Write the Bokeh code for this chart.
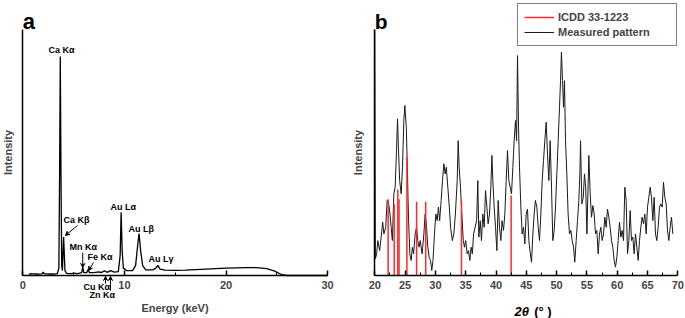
from math import pi
from bokeh.plotting import figure
from bokeh.layouts import row
from bokeh.models import Range1d, Label, Legend, LegendItem, Arrow, VeeHead, FixedTicker
from bokeh.embed import file_html
from bokeh.resources import INLINE

FONT = "Liberation Sans"

# ---------------- panel a: EDS spectrum ----------------
eds_energy = [0.6, 0.8, 1.0, 1.5, 1.9, 2.0, 2.1, 2.5, 3.0, 3.4, 3.55, 3.62, 3.69, 3.76, 3.83,
              3.9, 3.96, 4.02, 4.08, 4.15, 4.3, 4.8, 5.0, 5.4, 5.8, 5.9, 6.0, 6.3, 6.42, 6.55,
              7.0, 7.5, 7.7, 8.05, 8.3, 8.64, 9.0, 9.4, 9.58, 9.68, 9.78, 9.9, 10.2, 10.8,
              11.1, 11.3, 11.44, 11.6, 11.8, 12.1, 12.8, 13.1, 13.3, 13.5, 14.0, 15.0, 16.0,
              17.0, 18.0, 19.0, 20.0, 21.0, 22.0, 23.0, 24.0, 24.8, 25.5, 26.0, 30.0]
eds_counts = [0.5, 0.8, 0.7, 0.6, 0.7, 1.4, 0.8, 0.6, 0.6, 0.8, 3.0, 40, 89, 40, 4.0,
              2.0, 10, 15.6, 9, 2.0, 0.9, 0.8, 1.0, 0.8, 1.2, 3.4, 1.2, 1.2, 2.4, 1.2,
              1.2, 1.5, 1.2, 1.9, 1.3, 2.0, 1.4, 1.6, 8, 25.7, 10, 3.0, 2.0, 2.0,
              4.0, 12, 17, 10, 4.0, 2.3, 2.3, 3.0, 4.1, 2.6, 2.2, 2.1, 2.2,
              2.4, 2.6, 2.8, 3.0, 3.1, 3.2, 3.2, 2.8, 1.8, 0.3, 0.0, 0.0]

eds_labels = ["Ca K\u03b1", "Ca K\u03b2", "Mn K\u03b1", "Fe K\u03b1", "Cu K\u03b1",
              "Zn K\u03b1", "Au L\u03b1", "Au L\u03b2", "Au L\u03b3"]
eds_label_x = [2.53, 4.0, 4.6, 6.37, 5.97, 6.56, 8.63, 10.4, 12.37]
eds_label_y = [91.5, 22.4, 11.4, 7.7, -4.5, -8.1, 28.0, 19.1, 6.9]

eds_arrow_x0 = [5.38, 5.9, 6.96, 8.14, 8.63]
eds_arrow_y0 = [20.3, 9.3, 5.3, -3.3, -6.1]
eds_arrow_x1 = [4.2, 5.9, 6.47, 8.14, 8.63]
eds_arrow_y1 = [16.3, 3.3, 2.0, -0.4, -0.4]

# ---------------- panel b: XRD pattern ----------------
xrd_angle = [20.0, 20.1, 20.3, 20.5, 20.8, 21.05, 21.3, 21.5, 21.8, 22.04, 22.3, 22.5, 22.7, 22.9,
             23.14, 23.36, 23.58, 23.75, 23.9, 24.1, 24.35, 24.57, 24.79, 24.96, 25.2, 25.34,
             25.56, 25.78, 26.0, 26.2, 26.4, 26.66, 26.88, 27.1, 27.3, 27.5, 27.8, 28.1, 28.3,
             28.5, 28.75, 28.97, 29.2, 29.4, 29.6, 29.85, 30.07, 30.3, 30.5, 30.7, 30.95,
             31.17, 31.4, 31.6, 31.8, 32.05, 32.3, 32.5, 32.8, 33.04, 33.3, 33.6, 33.76,
             33.92, 34.14, 34.36, 34.6, 34.8, 35.0, 35.24, 35.46, 35.68, 35.9, 36.1, 36.3,
             36.56, 36.8, 37.0, 37.17, 37.4, 37.6, 37.83, 38.05, 38.27, 38.5, 38.7, 38.93,
             39.15, 39.32, 39.48, 39.7, 39.92, 40.14, 40.36, 40.58, 40.8, 41.0, 41.24, 41.46,
             41.68, 41.9, 42.12, 42.34, 42.56, 42.78, 43.0, 43.22, 43.4, 43.55, 43.72, 43.88,
             44.1, 44.32, 44.54, 44.76, 44.98, 45.2, 45.42, 45.6, 45.86, 46.08, 46.3, 46.5,
             46.74, 46.96, 47.18, 47.4, 47.62, 47.84, 48.06, 48.28, 48.5, 48.72, 48.94, 49.16,
             49.38, 49.6, 49.82, 50.04, 50.26, 50.48, 50.65, 50.8, 50.98, 51.14, 51.3, 51.47,
             51.69, 51.9, 52.13, 52.35, 52.57, 52.8, 53.0, 53.23, 53.45, 53.67, 53.85, 53.95,
             54.17, 54.4, 54.6, 54.8, 55.0, 55.32, 55.54, 55.76, 55.98, 56.2, 56.42, 56.64,
             56.86, 57.08, 57.3, 57.52, 57.74, 57.96, 58.18, 58.4, 58.62, 58.84, 59.06, 59.28,
             59.5, 59.72, 59.94, 60.16, 60.38, 60.6, 60.82, 61.04, 61.26, 61.48, 61.7, 61.92,
             62.14, 62.36, 62.58, 62.8, 63.02, 63.24, 63.46, 63.68, 63.9, 64.1, 64.34, 64.56,
             64.78, 65.0, 65.22, 65.44, 65.66, 65.88, 66.1, 66.32, 66.54, 66.76, 66.98, 67.2,
             67.42, 67.64, 67.86, 68.08, 68.3, 68.52, 68.74, 68.96, 69.18]
xrd_intensity = [100.0, 6.8, 8.8, 14.2, 10.1, 15.6, 21.7, 16.9, 19.6, 30.5, 29.1, 25.0, 19.6, 14.2,
                 33.2, 35.9, 50.8, 63.7, 52.1, 38.6, 33.2, 44.0, 63.0, 69.1, 60.3, 46.7,
                 23.7, 8.8, 6.1, 11.5, 8.8, 16.9, 19.6, 14.2, 11.5, 14.2, 8.8, 16.9, 25.0,
                 21.0, 11.5, 7.4, 6.1, 2.0, 6.1, 16.9, 25.0, 22.3, 27.8, 22.3, 30.5,
                 38.6, 45.4, 41.3, 44.0, 35.9, 27.8, 19.6, 14.2, 16.9, 25.0, 38.6, 54.8,
                 44.0, 35.9, 25.0, 14.2, 11.5, 14.2, 8.8, 10.1, 6.1, 11.5, 8.8, 16.9,
                 19.6, 22.3, 38.6, 15.6, 22.3, 14.2, 25.0, 19.6, 34.5, 27.8, 21.0, 25.0,
                 35.9, 48.8, 38.6, 27.8, 19.6, 10.1, 30.5, 19.6, 14.2, 22.3, 18.3, 25.0,
                 38.6, 50.8, 38.6, 35.9, 33.2, 44.0, 54.8, 63.0, 54.8, 89.4, 60.3, 44.0,
                 27.8, 16.9, 19.6, 12.8, 25.0, 27.0, 14.2, 10.1, 5.4, 16.9, 25.0, 30.5,
                 27.8, 19.6, 14.2, 25.0, 38.6, 46.7, 54.8, 62.3, 49.4, 38.6, 54.8, 35.9,
                 14.2, 18.3, 27.8, 41.3, 54.8, 68.4, 79.2, 90.8, 79.2, 68.4, 79.2, 54.8,
                 41.3, 25.0, 16.9, 18.3, 14.2, 11.5, 5.4, 14.2, 22.3, 30.5, 42.0, 54.8,
                 29.1, 31.8, 41.3, 35.9, 16.9, 48.8, 33.2, 23.7, 28.4, 25.0, 16.9, 18.3,
                 8.8, 16.9, 19.6, 14.2, 16.9, 23.7, 19.6, 27.0, 23.7, 19.6, 14.2, 11.5,
                 6.1, 3.4, 7.4, 14.2, 21.7, 15.6, 18.3, 14.2, 35.9, 30.5, 8.8, 14.2,
                 26.4, 14.2, 15.6, 8.8, 16.9, 11.5, 6.1, 14.2, 19.6, 23.7, 21.0, 25.0,
                 16.9, 27.8, 31.8, 35.9, 31.8, 22.3, 31.8, 16.9, 14.2, 19.6, 27.8, 29.1,
                 27.8, 37.9, 31.8, 29.1, 18.3, 14.2, 19.6, 23.7, 16.9]

icdd_angle = [22.2, 23.2, 23.8, 24.0, 25.3, 26.9, 28.4, 34.3, 42.5]
icdd_intensity = [31, 29, 35, 31, 48, 30, 30, 30.5, 32.5]

x_ticks_a = [0, 10, 20, 30]
x_minor_a = [5, 15, 25]
x_ticks_b = [20, 25, 30, 35, 40, 45, 50, 55, 60, 65, 70]
x_minor_b = [22.5, 27.5, 32.5, 37.5, 42.5, 47.5, 52.5, 57.5, 62.5, 67.5]

# each plot area fills its whole canvas; axes sit at fixed data locations.
PXY = 2.46            # px per intensity unit: 0 at py 275, 100 at py 29
Y_BOTTOM = -43 / PXY
Y_TOP = 275 / PXY
XA0, PXA = 22.3, 10.16   # panel a: 0 keV at px 22.3
XB0, PXB = 34.3, 6.06    # panel b: 20 deg at px 34.3 within the panel


def style(p, ticks, minor, xbounds, xlabel, ylabel_standoff):
    p.xgrid.visible = False
    p.ygrid.visible = False
    p.outline_line_color = None
    p.background_fill_color = "white"
    p.border_fill_color = "white"
    xa = p.xaxis[0]
    xa.fixed_location = 0
    xa.bounds = xbounds
    xa.ticker = FixedTicker(ticks=ticks, minor_ticks=minor)
    xa.major_tick_in = 5
    xa.major_tick_out = 0
    xa.minor_tick_in = 3
    xa.minor_tick_out = 0
    xa.axis_line_width = 1.5
    xa.major_tick_line_width = 1.5
    xa.major_label_text_font = FONT
    xa.major_label_text_font_style = "bold"
    xa.major_label_text_font_size = "11px"
    xa.major_label_standoff = 5
    xa.axis_label = xlabel
    xa.axis_label_text_font = FONT
    xa.axis_label_text_font_style = "bold"
    xa.axis_label_text_font_size = "11px"
    xa.axis_label_standoff = 10
    ya = p.yaxis[0]
    ya.fixed_location = xbounds[0]
    ya.ticker = FixedTicker(ticks=[])
    ya.bounds = (0, 100)
    ya.axis_line_width = 1.5
    ya.major_label_text_font_size = "0px"
    ya.major_label_standoff = 0
    ya.major_tick_in = 0
    ya.major_tick_out = 0
    ya.minor_tick_in = 0
    ya.minor_tick_out = 0
    ya.axis_label = "Intensity"
    ya.axis_label_text_font = FONT
    ya.axis_label_text_font_style = "bold"
    ya.axis_label_text_font_size = "11px"
    ya.axis_label_standoff = ylabel_standoff


def txt(p, x, y, s, size, style_="bold", align="left", baseline="middle"):
    p.add_layout(Label(x=x, y=y, text=s, text_font=FONT, text_font_size=size,
                       text_font_style=style_, text_align=align, text_baseline=baseline,
                       text_color="black"))


# ---- panel a ----
pa = figure(width=340, height=318, output_backend="svg", toolbar_location=None,
            x_range=Range1d(-XA0 / PXA, (340 - XA0) / PXA), y_range=Range1d(Y_BOTTOM, Y_TOP),
            min_border=0)
style(pa, x_ticks_a, x_minor_a, (0, 30), "Energy (keV)", 9)
pa.line(eds_energy, eds_counts, line_color="black", line_width=1.3)
for s, x, y in zip(eds_labels, eds_label_x, eds_label_y):
    txt(pa, x, y, s, "9px")
for x0, y0, x1, y1 in zip(eds_arrow_x0, eds_arrow_y0, eds_arrow_x1, eds_arrow_y1):
    pa.add_layout(Arrow(x_start=x0, y_start=y0, x_end=x1, y_end=y1, line_width=1,
                        end=VeeHead(size=4, line_width=1, fill_color="black")))
txt(pa, 0.0, 103.3, "a", "22px", baseline="alphabetic")

# ---- panel b ----
pb = figure(width=345, height=318, output_backend="svg", toolbar_location=None,
            x_range=Range1d(20 - XB0 / PXB, 20 + (345 - XB0) / PXB),
            y_range=Range1d(Y_BOTTOM, Y_TOP), min_border=0)
style(pb, x_ticks_b, x_minor_b, (20, 70), "", 11)
meas = pb.line(xrd_angle, xrd_intensity, line_color="#1a1a1a", line_width=1)
icdd = pb.segment(x0=icdd_angle, y0=[0] * len(icdd_angle), x1=icdd_angle, y1=icdd_intensity,
                  line_color="#ff2a2a", line_width=1.5)
leg = Legend(items=[LegendItem(label="ICDD 33-1223", renderers=[icdd]),
                    LegendItem(label="Measured pattern", renderers=[meas])],
             location=(177, 272), margin=0, padding=6, spacing=1,
             glyph_width=30, glyph_height=14, label_height=14, label_standoff=4,
             label_width=112,
             label_text_font=FONT, label_text_font_size="11px", label_text_font_style="bold",
             border_line_color="#7f7f7f", border_line_width=1, border_line_alpha=1.0,
             background_fill_color="white", background_fill_alpha=1.0)
pb.add_layout(leg)
txt(pb, 20.0, 103.3, "b", "21px", baseline="alphabetic")
txt(pb, 43.05, -14.6, "2\u03b8", "13px", style_="bold italic")
txt(pb, 46.3, -14.6, "(\u00b0  )", "13px")

layout = row(pa, pb)
open("out.html", "w").write(file_html(layout, INLINE))
